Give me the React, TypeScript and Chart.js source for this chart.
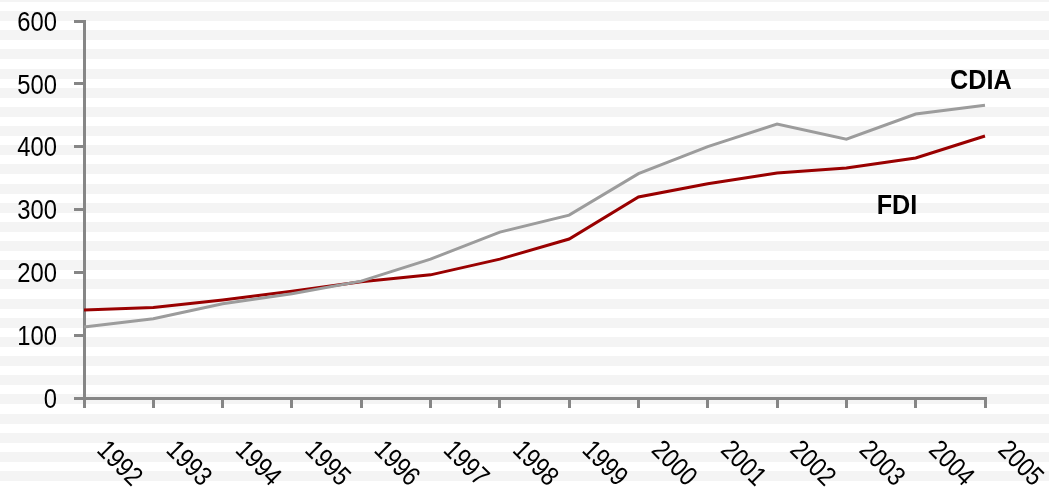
import React, { useEffect, useRef } from "react";
import { Chart, registerables } from "chart.js";

Chart.register(...registerables);

const years = ["1992", "1993", "1994", "1995", "1996", "1997", "1998", "1999", "2000", "2001", "2002", "2003", "2004", "2005"];
const cdia = [113, 126, 150, 166, 186, 221, 264, 291, 357, 400, 436, 412, 452, 466];
const fdi = [140, 144, 156, 170, 185, 196, 221, 253, 320, 341, 358, 366, 382, 417];
const yTicks = [0, 100, 200, 300, 400, 500, 600];
const seriesNames = ["CDIA", "FDI"];
const seriesLabelAnchors = [
  { x: 12.94, y: 505 },
  { x: 11.73, y: 306 },
];

const FONT = "'Liberation Sans', Arial, sans-serif";
const AXIS = "#868686";

function drawNarrow(ctx: any, text: string, x: number, y: number, sx: number, align: string) {
  ctx.save();
  ctx.translate(x, y);
  ctx.scale(sx, 1);
  ctx.textAlign = align;
  ctx.fillText(text, 0, 0);
  ctx.restore();
}

const decorPlugin = {
  id: "decor",
  beforeDraw(chart: any) {
    const { ctx, width, height } = chart;
    ctx.save();
    ctx.fillStyle = "#ffffff";
    ctx.fillRect(0, 0, width, height);
    ctx.fillStyle = "#f4f4f4";
    const period = 19.17;
    for (let y = 11 - period; y < height; y += period) {
      ctx.fillRect(0, Math.round(y), width, 10);
    }
    ctx.restore();
  },
  afterDraw(chart: any) {
    const { ctx } = chart;
    const xs = chart.scales.x;
    const ys = chart.scales.y;
    ctx.save();
    ctx.fillStyle = "#000";
    ctx.textBaseline = "middle";
    // y tick labels
    ctx.font = `28px ${FONT}`;
    yTicks.forEach((v) => {
      const py = ys.getPixelForValue(v);
      drawNarrow(ctx, String(v), 57, py + 2, 0.85, "right");
    });
    // x tick labels, rotated clockwise
    ctx.font = `27px ${FONT}`;
    years.forEach((lab, i) => {
      const px = xs.getPixelForTick(i);
      ctx.save();
      ctx.translate(px + 17, 446);
      ctx.rotate(Math.PI / 4);
      ctx.scale(0.85, 1);
      ctx.textAlign = "left";
      ctx.fillText(lab, 0, 0);
      ctx.restore();
    });
    // series labels
    ctx.font = `bold 28px ${FONT}`;
    seriesNames.forEach((name, i) => {
      const a = seriesLabelAnchors[i];
      const px = xs.getPixelForValue(a.x);
      const py = ys.getPixelForValue(a.y);
      drawNarrow(ctx, name, px, py + 1, 0.9, "center");
    });
    ctx.restore();
  },
};

export default function App() {
  const ref = useRef<HTMLCanvasElement>(null);
  useEffect(() => {
    if (!ref.current) return;
    const chart = new Chart(ref.current, {
      type: "line",
      data: {
        labels: years,
        datasets: [
          {
            label: "CDIA",
            data: cdia,
            borderColor: "#9c9c9c",
            borderWidth: 3,
            pointRadius: 0,
            tension: 0,
          },
          {
            label: "FDI",
            data: fdi,
            borderColor: "#990000",
            borderWidth: 3,
            pointRadius: 0,
            tension: 0,
          },
        ],
      },
      options: {
        responsive: false,
        animation: false,
        layout: { padding: { left: 0, top: 21, right: 64, bottom: 0 } },
        plugins: { legend: { display: false }, tooltip: { enabled: false } },
        scales: {
          x: {
            type: "category",
            offset: false,
            grid: {
              drawOnChartArea: false,
              drawTicks: true,
              tickLength: 10,
              color: AXIS,
              lineWidth: 3,
            },
            border: { color: AXIS, width: 3 },
            ticks: { display: false },
            afterFit: (s: any) => {
              s.height = 92;
              s.paddingLeft = 0;
              s.paddingRight = 0;
            },
          },
          y: {
            min: 0,
            max: 600,
            afterBuildTicks: (s: any) => {
              s.ticks = yTicks.map((v) => ({ value: v }));
            },
            grid: {
              drawOnChartArea: false,
              drawTicks: true,
              tickLength: 10,
              color: AXIS,
              lineWidth: 3,
            },
            border: { color: AXIS, width: 3 },
            ticks: { display: false },
            afterFit: (s: any) => {
              s.width = 84;
              s.paddingTop = 0;
              s.paddingBottom = 0;
            },
          },
        },
      },
      plugins: [decorPlugin],
    });
    return () => chart.destroy();
  }, []);
  return (
    <div style={{ position: "absolute", left: 0, top: 0, width: 1049, height: 490 }}>
      <canvas ref={ref} width={1049} height={490} style={{ display: "block" }} />
    </div>
  );
}
